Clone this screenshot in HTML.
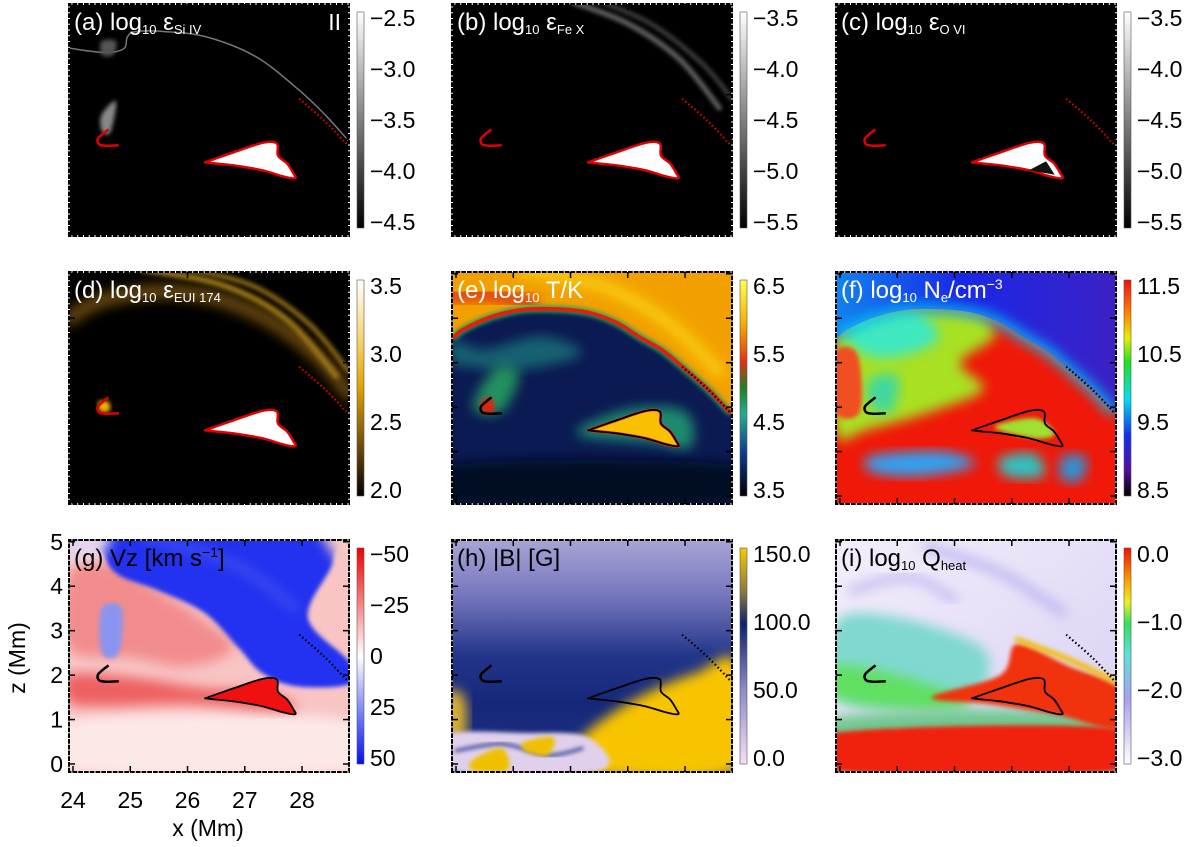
<!DOCTYPE html>
<html><head><meta charset="utf-8"><style>
html,body{margin:0;padding:0;background:#fff;width:1200px;height:847px;overflow:hidden;}
svg{display:block;font-family:"Liberation Sans",sans-serif;overflow:hidden;}
</style></head><body>
<svg id="fig" width="1200" height="847" viewBox="0 0 1200 847" xmlns="http://www.w3.org/2000/svg">
<defs>
<filter id="bl" x="-20%" y="-20%" width="140%" height="140%"><feGaussianBlur stdDeviation="6"/></filter>
<filter id="bl2" x="-20%" y="-20%" width="140%" height="140%"><feGaussianBlur stdDeviation="2"/></filter>
<linearGradient id="cg-gray" x1="0" y1="0" x2="0" y2="1"><stop offset="0" stop-color="#fff"/><stop offset="1" stop-color="#000"/></linearGradient>
<linearGradient id="cg-d" x1="0" y1="0" x2="0" y2="1"><stop offset="0" stop-color="#fff"/><stop offset="0.3" stop-color="#f7d060"/><stop offset="0.5" stop-color="#e0a000"/><stop offset="0.75" stop-color="#7a5208"/><stop offset="1" stop-color="#000"/></linearGradient>
<linearGradient id="cg-e" x1="0" y1="0" x2="0" y2="1"><stop offset="0" stop-color="#ffff50"/><stop offset="0.2" stop-color="#f5b000"/><stop offset="0.38" stop-color="#e03010"/><stop offset="0.5" stop-color="#208020"/><stop offset="0.62" stop-color="#20b090"/><stop offset="0.8" stop-color="#103a90"/><stop offset="1" stop-color="#000"/></linearGradient>
<linearGradient id="cg-f" x1="0" y1="0" x2="0" y2="1"><stop offset="0" stop-color="#f01010"/><stop offset="0.15" stop-color="#ff8000"/><stop offset="0.27" stop-color="#e8f000"/><stop offset="0.38" stop-color="#20e020"/><stop offset="0.55" stop-color="#00e0f0"/><stop offset="0.72" stop-color="#1030f0"/><stop offset="0.88" stop-color="#5010a0"/><stop offset="1" stop-color="#000"/></linearGradient>
<linearGradient id="cg-g" x1="0" y1="0" x2="0" y2="1"><stop offset="0" stop-color="#f00000"/><stop offset="0.5" stop-color="#fff"/><stop offset="1" stop-color="#0010f0"/></linearGradient>
<linearGradient id="cg-h" x1="0" y1="0" x2="0" y2="1"><stop offset="0" stop-color="#fcc800"/><stop offset="0.2" stop-color="#8a7a40"/><stop offset="0.35" stop-color="#10206e"/><stop offset="0.65" stop-color="#8a88c8"/><stop offset="1" stop-color="#f8e0f4"/></linearGradient>
<linearGradient id="cg-i" x1="0" y1="0" x2="0" y2="1"><stop offset="0" stop-color="#f01000"/><stop offset="0.15" stop-color="#f8a000"/><stop offset="0.25" stop-color="#f0f020"/><stop offset="0.35" stop-color="#30e060"/><stop offset="0.5" stop-color="#60e0e0"/><stop offset="0.7" stop-color="#a8a0f0"/><stop offset="1" stop-color="#fff"/></linearGradient>
<linearGradient id="bg-h" x1="0" y1="0" x2="0" y2="1"><stop offset="0" stop-color="#a8a4d6"/><stop offset="0.25" stop-color="#7474bc"/><stop offset="0.5" stop-color="#22358a"/><stop offset="0.7" stop-color="#15287a"/><stop offset="1" stop-color="#1c2e80"/></linearGradient>
<linearGradient id="bg-f" x1="0" y1="0" x2="1" y2="0"><stop offset="0" stop-color="#1090f0"/><stop offset="0.45" stop-color="#1828e8"/><stop offset="1" stop-color="#4020c0"/></linearGradient>
<linearGradient id="bg-i" x1="0" y1="0" x2="1" y2="1"><stop offset="0" stop-color="#f4eefa"/><stop offset="1" stop-color="#d8d0f4"/></linearGradient>
</defs>
</svg>
<script>
// ---- data ----
const xTicks = [24, 25, 26, 27, 28];
const zTicks = [0, 1, 2, 3, 4, 5];
const xRange = [23.93, 28.82];
const zRange = [-0.18, 5.04];
const cbA = ["−2.5","−3.0","−3.5","−4.0","−4.5"];
const cbB = ["−3.5","−4.0","−4.5","−5.0","−5.5"];
const cbC = ["−3.5","−4.0","−4.5","−5.0","−5.5"];
const cbD = ["3.5","3.0","2.5","2.0"];
const cbE = ["6.5","5.5","4.5","3.5"];
const cbF = ["11.5","10.5","9.5","8.5"];
const cbG = ["−50","−25","0","25","50"];
const cbH = ["150.0","100.0","50.0","0.0"];
const cbI = ["0.0","−1.0","−2.0","−3.0"];
const arcX = [23.95, 24.12, 24.6, 25.16, 25.8, 26.33, 26.8, 27.2, 27.6, 27.95, 28.4, 28.8];
const arcZ = [3.55, 3.74, 4.02, 4.19, 4.2, 4.12, 3.9, 3.58, 3.28, 2.91, 2.4, 1.86];
const wedgeX = [26.36, 26.8, 27.32, 27.56, 27.58, 27.74, 27.84, 27.88, 27.67, 27.3, 26.8, 26.36];
const wedgeZ = [1.50, 1.70, 1.92, 1.90, 1.63, 1.45, 1.25, 1.12, 1.16, 1.30, 1.41, 1.47];
const hookX = [24.62, 24.44, 24.46, 24.6, 24.8];
const hookZ = [2.22, 2.02, 1.88, 1.85, 1.86];

const NS = "http://www.w3.org/2000/svg";
const svg = document.getElementById('fig');
const cols = [69, 452, 836];
const rows = [4, 272, 540];
const PW = 280, PH = 232;

function mk(tag, attrs, parent) {
  const e = document.createElementNS(NS, tag);
  for (const k in attrs) e.setAttribute(k, attrs[k]);
  (parent || svg).appendChild(e);
  return e;
}
function axes(X0, Y0) {
  return {
    px: x => X0 + (x - xRange[0]) / (xRange[1] - xRange[0]) * PW,
    pz: z => Y0 + (zRange[1] - z) / (zRange[1] - zRange[0]) * PH
  };
}
function pp(ax, arr) { return arr.map(p => ax.px(p[0]).toFixed(1) + "," + ax.pz(p[1]).toFixed(1)).join(" "); }
function sp(ax, arr, closed) {
  const P = arr.map(p => [ax.px(p[0]), ax.pz(p[1])]);
  const n = P.length;
  const get = i => closed ? P[(i + n) % n] : P[Math.max(0, Math.min(n - 1, i))];
  let d = "M" + P[0][0].toFixed(1) + "," + P[0][1].toFixed(1);
  const m = closed ? n : n - 1;
  for (let i = 0; i < m; i++) {
    const p0 = get(i - 1), p1 = get(i), p2 = get(i + 1), p3 = get(i + 2);
    const c1 = [p1[0] + (p2[0] - p0[0]) / 6, p1[1] + (p2[1] - p0[1]) / 6];
    const c2 = [p2[0] - (p3[0] - p1[0]) / 6, p2[1] - (p3[1] - p1[1]) / 6];
    d += "C" + c1[0].toFixed(1) + "," + c1[1].toFixed(1) + " " + c2[0].toFixed(1) + "," + c2[1].toFixed(1) + " " + p2[0].toFixed(1) + "," + p2[1].toFixed(1);
  }
  return d + (closed ? "Z" : "");
}
const arcArr = arcX.map((x, i) => [x, arcZ[i]]);
function abovePath(ax) {
  const top = [[xRange[1] + 0.3, 1.5], [xRange[1] + 0.3, zRange[1] + 0.3], [xRange[0] - 0.3, zRange[1] + 0.3], [xRange[0] - 0.3, 3.4]];
  let d = sp(ax, arcArr, false);
  top.forEach(p => d += "L" + ax.px(p[0]).toFixed(1) + "," + ax.pz(p[1]).toFixed(1));
  return d + "Z";
}

const panels = [
 {id:"a", c:0, r:0, bg:"#000", cb:"cg-gray", ticks:cbA, lab:["(a) log","10"," ε","Si IV"], lc:"#fff", cont:"#e00000"},
 {id:"b", c:1, r:0, bg:"#000", cb:"cg-gray", ticks:cbB, lab:["(b) log","10"," ε","Fe X"], lc:"#fff", cont:"#e00000"},
 {id:"c", c:2, r:0, bg:"#000", cb:"cg-gray", ticks:cbC, lab:["(c) log","10"," ε","O VI"], lc:"#fff", cont:"#e00000"},
 {id:"d", c:0, r:1, bg:"#000", cb:"cg-d", ticks:cbD, lab:["(d) log","10"," ε","EUI 174"], lc:"#fff", cont:"#e00000"},
 {id:"e", c:1, r:1, bg:"#0b1a52", cb:"cg-e", ticks:cbE, lab:["(e) log","10"," T/K",""], lc:"#fff", cont:"#000"},
 {id:"f", c:2, r:1, bg:"#f01808", cb:"cg-f", ticks:cbF, lab:["(f) log","10"," N","e","/cm","−3"], lc:"#fff", cont:"#000"},
 {id:"g", c:0, r:2, bg:"#f8c4c4", cb:"cg-g", ticks:cbG, lab:["(g) Vz [km s","−1","]"], lc:"#000", cont:"#000"},
 {id:"h", c:1, r:2, bg:"url(#bg-h)", cb:"cg-h", ticks:cbH, lab:["(h) |B| [G]"], lc:"#000", cont:"#000"},
 {id:"i", c:2, r:2, bg:"url(#bg-i)", cb:"cg-i", ticks:cbI, lab:["(i) log","10"," Q","heat"], lc:"#000", cont:"#000"}
];

panels.forEach(P => {
  const X0 = cols[P.c], Y0 = rows[P.r];
  const ax = axes(X0, Y0);
  const cp = mk('clipPath', {id: 'clip-' + P.id}, svg.querySelector('defs'));
  mk('rect', {x: X0, y: Y0, width: PW, height: PH}, cp);
  const g = mk('g', {'clip-path': 'url(#clip-' + P.id + ')'});
  
  
  mk('rect', {x: X0, y: Y0, width: PW, height: PH, fill: P.bg}, g);
  const arcD = sp(ax, arcArr, false);
  const wedgeD = sp(ax, wedgeX.map((x, i) => [x, wedgeZ[i]]), true);
  const blob = (arr, fill, f, op) => mk('path', {d: sp(ax, arr, true), fill: fill, filter: f || 'url(#bl)', opacity: op || 1}, g);
  const line = (arr, col, w, f, op) => mk('path', {d: sp(ax, arr, false), fill: 'none', stroke: col, 'stroke-width': w, filter: f || 'none', opacity: op || 1, 'stroke-linecap': 'round'}, g);
  if (P.id === 'a') {
    line([[23.93,4.05],[24.3,3.98],[24.65,3.95],[24.9,4.05],[24.95,4.3],[25.1,4.42],[25.6,4.42],[26.33,4.3],[27.2,3.85],[27.95,3.1],[28.4,2.55],[28.82,1.95]], '#777', 1.5);
    blob([[24.5,2.55],[24.75,2.85],[24.65,2.15],[24.5,2.2]], '#888', 'url(#bl2)');
    blob([[24.5,4.2],[24.75,4.2],[24.7,3.9],[24.5,3.9]], '#555', 'url(#bl2)');
  }
  if (P.id === 'b') {
    line([[26.0,5.1],[27.0,4.6],[27.9,3.8],[28.6,2.7]], '#666', 5, 'url(#bl2)');
    line([[26.4,5.15],[27.4,4.6],[28.3,3.7],[28.82,2.9]], '#444', 4, 'url(#bl2)');
  }
  if (P.id === 'd') {
    line([[23.93,4.0],[24.5,4.4],[25.5,4.6],[26.5,4.45],[27.5,3.9],[28.3,3.1],[28.82,2.3]], '#6a4a08', 14, 'url(#bl)');
    line([[25.2,5.1],[26.6,4.75],[27.7,4.0],[28.6,2.7]], '#9a7418', 6, 'url(#bl2)');
    line([[25.8,5.15],[27.1,4.75],[28.1,3.9],[28.82,2.8]], '#8a6818', 5, 'url(#bl2)');
    blob([[24.45,2.12],[24.62,2.12],[24.64,1.92],[24.47,1.9]], '#f0b000', 'url(#bl2)');
  }
  if (P.id === 'e') {
    blob([[23.93,3.5],[24.5,3.3],[25.5,3.6],[26.2,3.2],[25.2,2.85],[24.3,2.9],[23.93,3.0]], '#1f7f80', 'url(#bl)', 0.7);
    blob([[24.3,2.0],[24.7,2.9],[25.1,2.75],[24.8,1.9]], '#209060', 'url(#bl)');
    blob([[23.93,0.7],[28.82,0.7],[28.82,-0.15],[23.93,-0.15]], '#040a20', 'url(#bl)');
    blob([[26.1,1.4],[27.0,1.95],[28.0,1.9],[28.1,1.1],[27.4,1.2]], '#1a8a70', 'url(#bl)');
    mk('path', {d: abovePath(ax), fill: '#f2a000'}, g);
    line([[25.2,5.1],[26.6,4.7],[27.7,3.9],[28.6,2.8]], '#f8cc10', 12, 'url(#bl)');
    line([[23.9,4.5],[24.5,4.55],[25.3,4.35]], '#e04010', 16, 'url(#bl)');
    mk('path', {d: arcD, fill: 'none', stroke: '#20a060', 'stroke-width': 7, filter: 'url(#bl2)'}, g);
    mk('path', {d: arcD, fill: 'none', stroke: '#e02010', 'stroke-width': 4}, g);
    blob([[24.45,2.15],[24.62,2.2],[24.66,1.9],[24.46,1.9]], '#e02010', 'url(#bl2)');
    mk('path', {d: wedgeD, fill: '#f8c000', stroke: '#e03010', 'stroke-width': 3}, g);
  }
  if (P.id === 'f') {
    blob([[23.93,3.6],[24.12,3.74],[25.16,4.19],[26.33,4.12],[26.7,3.6],[26.1,3.0],[26.5,2.4],[25.6,1.9],[24.5,1.5],[23.93,1.4]], '#a8e020');
    blob([[24.2,3.95],[25.3,4.15],[25.7,3.5],[24.8,3.1],[24.2,3.4]], '#40e8c0');
    blob([[24.5,2.6],[25.0,2.7],[24.9,1.9],[24.55,2.0]], '#40d8a0');
    blob([[23.9,3.2],[24.3,3.2],[24.35,1.9],[23.9,1.9]], '#f05020', 'url(#bl2)');
    blob([[24.55,0.9],[25.8,1.0],[26.35,0.7],[25.4,0.45],[24.55,0.55]], '#30a0f0');
    blob([[26.8,0.85],[27.4,0.95],[27.55,0.45],[26.9,0.45]], '#30c0c0');
    blob([[27.9,0.9],[28.3,0.85],[28.2,0.35],[27.85,0.4]], '#3090d0');
    blob([[26.7,1.55],[27.4,1.75],[27.75,1.4],[27.4,1.3]], '#a0e030', 'url(#bl2)');
    mk('path', {d: abovePath(ax), fill: 'url(#bg-f)'}, g);
    mk('path', {d: arcD, fill: 'none', stroke: '#10c0f0', 'stroke-width': 9, filter: 'url(#bl)'}, g);
  }
  if (P.id === 'g') {
    blob([[23.93,1.0],[28.82,1.0],[28.82,-0.15],[23.93,-0.15]], '#fde8e8');
    blob([[23.93,4.3],[24.6,4.5],[25.2,4.1],[26.2,3.3],[26.8,2.6],[26.0,2.2],[25.0,2.4],[23.93,2.6]], '#f28c8c');
    blob([[23.93,2.0],[25,1.95],[26.3,1.7],[27.3,1.65],[27.9,1.3],[27.5,1.2],[26,1.35],[24.5,1.3],[23.93,1.4]], '#ee6060');
    blob([[24.5,3.5],[24.85,3.5],[24.8,2.5],[24.5,2.5]], '#8a94f0', 'url(#bl2)');
    blob([[24.5,5.3],[28.3,5.3],[28.55,4.6],[28.1,3.3],[28.82,2.3],[28.82,1.8],[27.9,1.75],[27.3,2.05],[26.9,2.6],[26.3,3.4],[25.5,3.9],[24.8,4.25],[24.55,4.7]], '#2030f0', 'url(#bl2)');
    blob([[23.8,5.3],[24.6,5.3],[24.5,4.7],[23.8,4.6]], '#e6d4ee', 'url(#bl)');
    line([[25.3,5.1],[26.8,4.5],[27.9,3.5]], '#4a58f0', 6, 'url(#bl)');
    blob([[28.3,5.3],[28.9,5.3],[28.9,4.2]], '#f6c8c8', 'url(#bl)');
    mk('path', {d: wedgeD, fill: '#f01010'}, g);
  }
  if (P.id === 'h') {
    blob([[25.9,-0.15],[26.2,0.6],[26.8,1.2],[27.5,1.7],[28.2,2.05],[28.9,2.3],[28.9,-0.15]], '#f8c400', 'url(#bl)');
    blob([[23.8,1.6],[24.15,1.5],[24.15,0.6],[23.8,0.6]], '#d8b030');
    blob([[23.8,0.65],[25.2,0.7],[26.3,0.6],[26.5,-0.15],[23.8,-0.15]], '#e0d0ec', 'url(#bl2)');
    line([[24.0,0.3],[24.8,0.45],[25.6,0.2],[26.2,0.35]], '#2a3a90', 3, 'url(#bl2)');
    blob([[24.3,0.1],[24.8,0.35],[24.9,-0.15],[24.3,-0.15]], '#f0c000', 'url(#bl2)');
    blob([[25.2,0.5],[25.7,0.6],[25.6,0.2],[25.2,0.3]], '#f0c000', 'url(#bl2)');
  }
  if (P.id === 'i') {
    blob([[23.93,3.2],[25.0,3.3],[26.5,2.6],[26.4,1.6],[25.4,1.3],[23.93,1.5]], '#80d8d0');
    blob([[23.9,2.2],[25.0,2.0],[26.3,1.4],[25.5,1.2],[23.9,1.5]], '#60e060');
    blob([[23.9,1.05],[28.82,1.1],[28.82,-0.15],[23.9,-0.15]], '#70c890');
    blob([[23.9,0.7],[28.82,0.8],[28.82,-0.15],[23.9,-0.15]], '#f02010', 'url(#bl2)');
    blob([[25.6,1.5],[26.8,2.0],[27.1,2.7],[28.0,2.2],[28.9,1.7],[28.9,0.8],[27.8,1.1],[26.6,1.35]], '#f03010', 'url(#bl2)');
    line([[27.1,2.8],[28.0,2.35],[28.82,1.85]], '#f0c020', 6, 'url(#bl2)');
    line([[25.5,4.9],[26.8,4.3],[27.9,3.4]], '#b8b0f0', 8, 'url(#bl)');
    line([[24.2,3.9],[25.2,4.2],[26.0,3.7]], '#c0b8f0', 8, 'url(#bl)');
  }
  let dl;
  if (P.r === 0 || P.id === 'd') {
    mk('path', {d: wedgeD, fill: '#fff', stroke: P.cont, 'stroke-width': 2.5}, g);
    if (P.id === 'c') mk('polygon', {points: pp(ax, [[27.3,1.3],[27.75,1.2],[27.6,1.5]]), fill: '#111'}, g);
    dl = line([[27.95,2.91],[28.4,2.4],[28.8,1.86]], '#e00000', 2.2);
  } else {
    mk('path', {d: wedgeD, fill: 'none', stroke: P.cont, 'stroke-width': 1.8}, g);
    dl = line([[27.95,2.91],[28.4,2.4],[28.8,1.86]], '#000', 2.2);
  }
  dl.setAttribute('stroke-dasharray', '1.5 2.5');
  dl.setAttribute('stroke-linecap', 'butt');
  const hk = mk('path', {d: sp(ax, hookX.map((x, i) => [x, hookZ[i]]), false), fill: 'none', stroke: P.cont, 'stroke-width': 2.5}, g);
  
  

  const fr = mk('rect', {x: X0, y: Y0, width: PW, height: PH, fill: 'none', stroke: '#000', 'stroke-width': 2});
  
  
  const tg = mk('g', {stroke: '#fff', 'stroke-width': 1});
  
  
  for (let x = X0 + 3; x < X0 + PW; x += 5.75) {
    mk('line', {x1: x, y1: Y0 - 1, x2: x, y2: Y0 + 1}, tg);
    mk('line', {x1: x, y1: Y0 + PH - 1, x2: x, y2: Y0 + PH + 1}, tg);
  }
  for (let y = Y0 + 3; y < Y0 + PH; y += 5.75) {
    mk('line', {x1: X0 - 1, y1: y, x2: X0 + 1, y2: y}, tg);
    mk('line', {x1: X0 + PW - 1, y1: y, x2: X0 + PW + 1, y2: y}, tg);
  }
  xTicks.forEach(t => {
    mk('line', {x1: ax.px(t), y1: Y0 + PH, x2: ax.px(t), y2: Y0 + PH - 6, stroke: '#000', 'stroke-width': 1.5});
    mk('line', {x1: ax.px(t), y1: Y0, x2: ax.px(t), y2: Y0 + 6, stroke: '#000', 'stroke-width': 1.5});
  });
  zTicks.forEach(t => {
    mk('line', {x1: X0, y1: ax.pz(t), x2: X0 + 6, y2: ax.pz(t), stroke: '#000', 'stroke-width': 1.5});
    mk('line', {x1: X0 + PW, y1: ax.pz(t), x2: X0 + PW - 6, y2: ax.pz(t), stroke: '#000', 'stroke-width': 1.5});
  });

  const tl = mk('text', {x: X0 + 5, y: Y0 + 26, fill: P.lc, 'font-size': 24});
  
  
  P.lab.forEach((s, i) => {
    const ts = mk('tspan', {}, tl);
    ts.textContent = s;
    if (i % 2 === 1) {
      const sup = (s === "−1" || s === "−3");
      ts.setAttribute('font-size', sup ? 14 : 13);
      ts.setAttribute('baseline-shift', sup ? '9' : '-4');
    }
  });
  if (P.id === 'a') {
    const ii = mk('text', {x: X0 + PW - 8, y: Y0 + 26, fill: '#fff', 'font-size': 23, 'text-anchor': 'end'});
    ii.textContent = 'II';
    
    
  }

  const cbx = X0 + PW + 8, cby = Y0 + 8, cbh = PH - 16;
  const cbr = mk('rect', {x: cbx, y: cby, width: 7, height: cbh, fill: 'url(#' + P.cb + ')', stroke: '#555', 'stroke-width': 0.6});
  
  
  const n = P.ticks.length;
  P.ticks.forEach((t, i) => {
    const y = cby + 6 + i * (cbh - 12) / (n - 1);
    const tx = mk('text', {x: cbx + 13, y: y + 8, 'font-size': 23, fill: '#000'});
    tx.textContent = t;
    
    
  });

  if (P.id === 'g') {
    xTicks.forEach(t => {
      const tx = mk('text', {x: ax.px(t), y: Y0 + PH + 36, 'font-size': 23, 'text-anchor': 'middle'});
      tx.textContent = t;
      
      
    });
    zTicks.forEach(t => {
      const tz = mk('text', {x: X0 - 6, y: ax.pz(t) + 8, 'font-size': 23, 'text-anchor': 'end'});
      tz.textContent = t;
      
      
    });
    const xl = mk('text', {x: X0 + 139, y: Y0 + PH + 64, 'font-size': 23, 'text-anchor': 'middle'});
    xl.textContent = 'x (Mm)';
    
    
    const zl = mk('text', {x: 25, y: Y0 + 118, 'font-size': 23, 'text-anchor': 'middle', transform: 'rotate(-90 25 ' + (Y0 + 118) + ')'});
    zl.textContent = 'z (Mm)';
    
    
  }
});
</script>
</body></html>
